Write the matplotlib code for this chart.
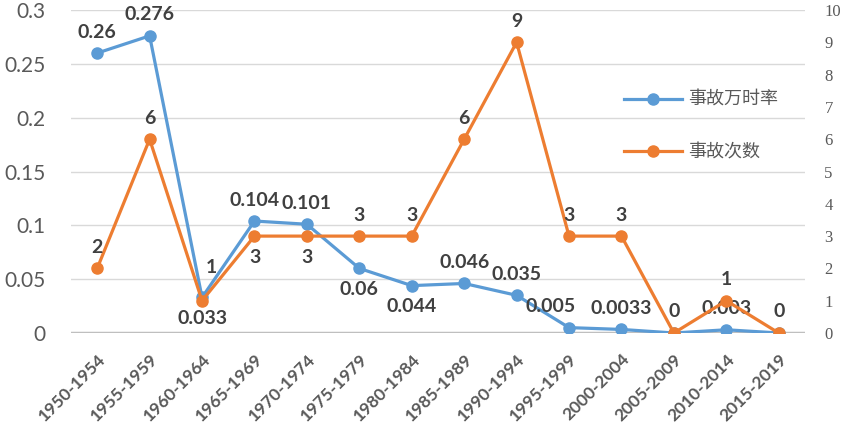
import matplotlib
matplotlib.use("Agg")
import matplotlib.pyplot as plt
import numpy as np

periods = ["1950-1954", "1955-1959", "1960-1964", "1965-1969", "1970-1974",
           "1975-1979", "1980-1984", "1985-1989", "1990-1994", "1995-1999",
           "2000-2004", "2005-2009", "2010-2014", "2015-2019"]
rate = [0.26, 0.276, 0.033, 0.104, 0.101, 0.06, 0.044, 0.046, 0.035,
        0.005, 0.0033, 0.0, 0.003, 0.0]
rate_labels = ["0.26", "0.276", "0.033", "0.104", "0.101", "0.06", "0.044",
               "0.046", "0.035", "0.005", "0.0033", "", "0.003", ""]
count = [2, 6, 1, 3, 3, 3, 3, 6, 9, 3, 3, 0, 1, 0]

# label placement: +1 above, -1 below
rate_pos = [1, 1, -1, 1, 1, -1, -1, 1, 1, 1, 1, 1, 1, 1]
count_pos = [1, 1, 1, -1, -1, 1, 1, 1, 1, 1, 1, 1, 1, 1]

blue = "#5B9BD5"
orange = "#ED7D31"
txt = "#404040"
grey = "#595959"

fig = plt.figure(figsize=(8.45, 4.3), dpi=100)
ax = fig.add_axes([0.084, 0.2256, 0.8686, 0.7511])
ax2 = ax.twinx()

x = np.arange(len(periods))
l1, = ax.plot(x, rate, color=blue, lw=2.3, marker="o", ms=8, label="事故万时率", zorder=3)
l2, = ax2.plot(x, count, color=orange, lw=2.3, marker="o", ms=8, label="事故次数", zorder=3)

ax.set_xlim(-0.5, len(periods) - 0.5)
ax.set_ylim(0, 0.3)
ax2.set_ylim(0, 10)
ax.set_yticks([0, 0.05, 0.1, 0.15, 0.2, 0.25, 0.3])
ax.set_yticklabels(["0", "0.05", "0.1", "0.15", "0.2", "0.25", "0.3"])
ax2.set_yticks(range(0, 11))

ax.grid(axis="y", color="#D9D9D9", lw=1)
ax.set_axisbelow(True)
for a in (ax, ax2):
    for s in a.spines.values():
        s.set_visible(False)
    a.tick_params(length=0)
ax.axhline(0, color="#BFBFBF", lw=2.5, zorder=2)

ax.tick_params(axis="y", labelsize=15, labelcolor=grey, pad=18)
for t in ax.get_yticklabels():
    t.set_fontfamily("Lato")
ax2.tick_params(axis="y", labelsize=12, labelcolor=grey, pad=14)
for t in ax2.get_yticklabels():
    t.set_fontfamily("Liberation Serif")

ax.set_xticks(x)
ax.set_xticklabels(periods, rotation=45, ha="right", rotation_mode="anchor",
                   fontsize=12.5, fontweight="bold", color=grey, family="Lato")
ax.tick_params(axis="x", pad=13)

for i in range(len(periods)):
    if rate_labels[i]:
        dx = -13 if i == 9 else 0
        ax.annotate(rate_labels[i], (x[i], rate[i]),
                    xytext=(dx, 9 * rate_pos[i]), textcoords="offset points",
                    ha="center", va="bottom" if rate_pos[i] > 0 else "top",
                    fontsize=14, fontweight="bold", color=txt, family="Lato")
    dx, dy = (7, 18) if i == 2 else (0, 9 * count_pos[i])
    ax2.annotate(str(count[i]), (x[i], count[i]),
                 xytext=(dx, dy), textcoords="offset points",
                 ha="center", va="bottom" if count_pos[i] > 0 else "top",
                 fontsize=14, fontweight="bold", color=txt, family="Lato")

leg = ax2.legend(handles=[l1, l2], loc="upper left", bbox_to_anchor=(0.732, 0.8),
                 frameon=False, prop={"family": ["Noto Sans CJK SC", "DejaVu Sans"], "size": 13},
                 labelspacing=1.9, handlelength=3.2, handletextpad=0.3)
for t in leg.get_texts():
    t.set_color(grey)

fig.savefig("out.png", dpi=100)
